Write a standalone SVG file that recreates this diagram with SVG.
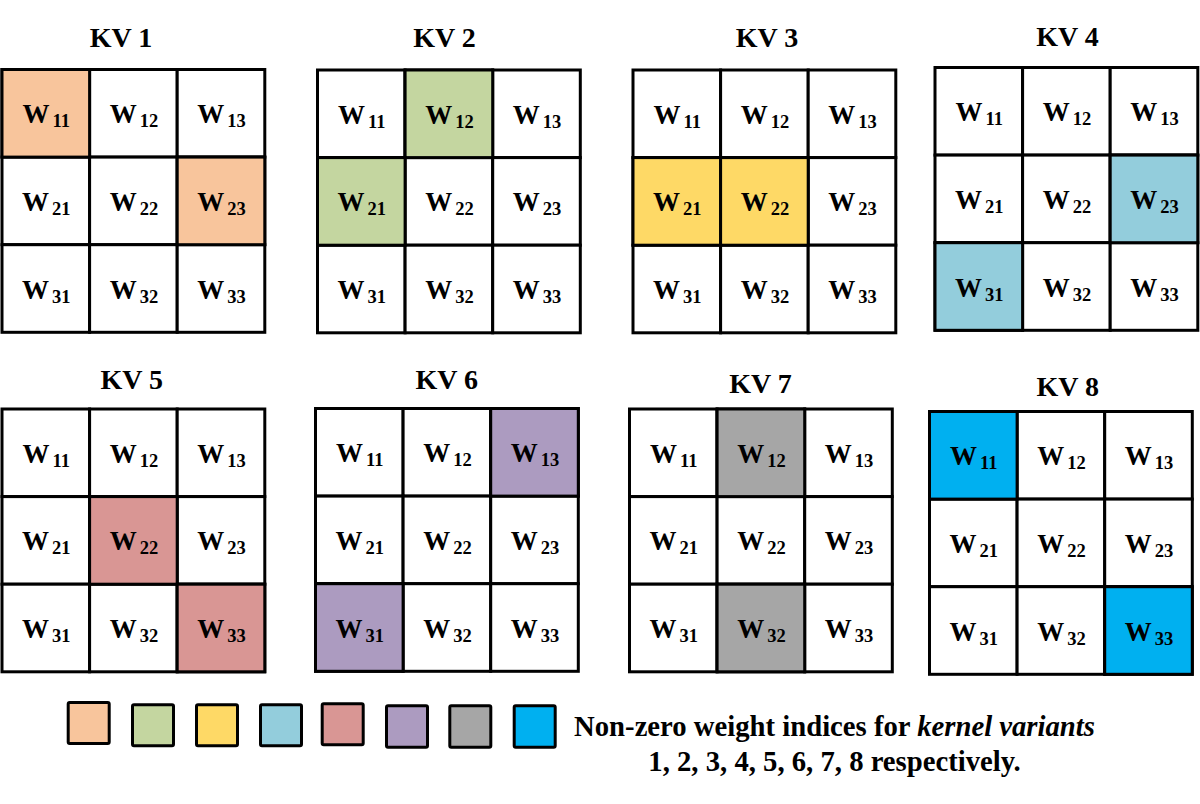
<svg xmlns="http://www.w3.org/2000/svg" width="1200" height="804" viewBox="0 0 1200 804">
<style>
.bg{fill:#fff}
.c{fill:#fff;stroke:#000;stroke-width:3}
.w{font-family:"Liberation Serif","Times New Roman",serif;font-weight:bold;font-size:27px;text-anchor:middle;fill:#000}
.s{font-size:18.5px}
.t{font-family:"Liberation Serif","Times New Roman",serif;font-weight:bold;font-size:28px;text-anchor:middle;fill:#000}
.lg{stroke:#000;stroke-width:3}
.lt{font-family:"Liberation Serif","Times New Roman",serif;font-weight:bold;font-size:28.7px;text-anchor:middle;fill:#000}
.o{fill:#F8C59C}.g{fill:#C4D6A0}.y{fill:#FED966}.a{fill:#93CDDC}.r{fill:#D99694}.p{fill:#AC9BC0}.k{fill:#A6A6A6}.b{fill:#00B0F0}
</style>
<defs>
<g id="cells">
<rect class="c" x="0" y="0" width="87.6" height="87.6"/>
<rect class="c" x="87.6" y="0" width="87.6" height="87.6"/>
<rect class="c" x="175.2" y="0" width="87.6" height="87.6"/>
<rect class="c" x="0" y="87.6" width="87.6" height="87.6"/>
<rect class="c" x="87.6" y="87.6" width="87.6" height="87.6"/>
<rect class="c" x="175.2" y="87.6" width="87.6" height="87.6"/>
<rect class="c" x="0" y="175.2" width="87.6" height="87.6"/>
<rect class="c" x="87.6" y="175.2" width="87.6" height="87.6"/>
<rect class="c" x="175.2" y="175.2" width="87.6" height="87.6"/>
</g>
<g id="labels">
<text class="w" x="44.3" y="53.8">W<tspan class="s" dx="3" dy="4">11</tspan></text>
<text class="w" x="131.9" y="53.8">W<tspan class="s" dx="3" dy="4">12</tspan></text>
<text class="w" x="219.5" y="53.8">W<tspan class="s" dx="3" dy="4">13</tspan></text>
<text class="w" x="44.3" y="141.4">W<tspan class="s" dx="3" dy="4">21</tspan></text>
<text class="w" x="131.9" y="141.4">W<tspan class="s" dx="3" dy="4">22</tspan></text>
<text class="w" x="219.5" y="141.4">W<tspan class="s" dx="3" dy="4">23</tspan></text>
<text class="w" x="44.3" y="229">W<tspan class="s" dx="3" dy="4">31</tspan></text>
<text class="w" x="131.9" y="229">W<tspan class="s" dx="3" dy="4">32</tspan></text>
<text class="w" x="219.5" y="229">W<tspan class="s" dx="3" dy="4">33</tspan></text>
</g>
</defs>
<rect class="bg" x="0" y="0" width="1200" height="804"/>

<g id="kv1">
<text class="t" x="121" y="46.5">KV 1</text>
<g transform="translate(2,69.5)">
<use href="#cells"/>
<rect class="c o" x="0" y="0" width="87.6" height="87.6"/>
<rect class="c o" x="175.2" y="87.6" width="87.6" height="87.6"/>
<use href="#labels"/>
</g>
</g>

<g id="kv2">
<text class="t" x="444.5" y="47">KV 2</text>
<g transform="translate(317.5,70)">
<use href="#cells"/>
<rect class="c g" x="87.6" y="0" width="87.6" height="87.6"/>
<rect class="c g" x="0" y="87.6" width="87.6" height="87.6"/>
<use href="#labels"/>
</g>
</g>

<g id="kv3">
<text class="t" x="767" y="46.5">KV 3</text>
<g transform="translate(633,70)">
<use href="#cells"/>
<rect class="c y" x="0" y="87.6" width="87.6" height="87.6"/>
<rect class="c y" x="87.6" y="87.6" width="87.6" height="87.6"/>
<use href="#labels"/>
</g>
</g>

<g id="kv4">
<text class="t" x="1067.5" y="46">KV 4</text>
<g transform="translate(935,67.5)">
<use href="#cells"/>
<rect class="c a" x="175.2" y="87.6" width="87.6" height="87.6"/>
<rect class="c a" x="0" y="175.2" width="87.6" height="87.6"/>
<use href="#labels"/>
</g>
</g>

<g id="kv5">
<text class="t" x="131.7" y="389">KV 5</text>
<g transform="translate(2,409)">
<use href="#cells"/>
<rect class="c r" x="87.6" y="87.6" width="87.6" height="87.6"/>
<rect class="c r" x="175.2" y="175.2" width="87.6" height="87.6"/>
<use href="#labels"/>
</g>
</g>

<g id="kv6">
<text class="t" x="446.7" y="389">KV 6</text>
<g transform="translate(315.5,408.5)">
<use href="#cells"/>
<rect class="c p" x="175.2" y="0" width="87.6" height="87.6"/>
<rect class="c p" x="0" y="175.2" width="87.6" height="87.6"/>
<use href="#labels"/>
</g>
</g>

<g id="kv7">
<text class="t" x="760.5" y="392.5">KV 7</text>
<g transform="translate(629.5,409)">
<use href="#cells"/>
<rect class="c k" x="87.6" y="0" width="87.6" height="87.6"/>
<rect class="c k" x="87.6" y="175.2" width="87.6" height="87.6"/>
<use href="#labels"/>
</g>
</g>

<g id="kv8">
<text class="t" x="1067.7" y="396">KV 8</text>
<g transform="translate(929.5,411.5)">
<use href="#cells"/>
<rect class="c b" x="0" y="0" width="87.6" height="87.6"/>
<rect class="c b" x="175.2" y="175.2" width="87.6" height="87.6"/>
<use href="#labels"/>
</g>
</g>

<g id="legend">
<rect class="lg o" x="68.2" y="702.5" width="41" height="41" rx="1.5"/>
<rect class="lg g" x="132.5" y="704.8" width="41" height="41" rx="1.5"/>
<rect class="lg y" x="196.5" y="704.8" width="41" height="41" rx="1.5"/>
<rect class="lg a" x="260.5" y="704.8" width="41" height="41" rx="1.5"/>
<rect class="lg r" x="322.2" y="703.8" width="41" height="41" rx="1.5"/>
<rect class="lg p" x="386.5" y="705.8" width="41" height="41.5" rx="1.5"/>
<rect class="lg k" x="449.8" y="705.8" width="41" height="41.5" rx="1.5"/>
<rect class="lg b" x="514.2" y="705.8" width="41" height="41.5" rx="1.5"/>
<text class="lt" x="834.5" y="736">Non-zero weight indices for <tspan font-style="italic">kernel variants</tspan></text>
<text class="lt" x="834.5" y="770.5">1, 2, 3, 4, 5, 6, 7, 8 respectively.</text>
</g>
</svg>
